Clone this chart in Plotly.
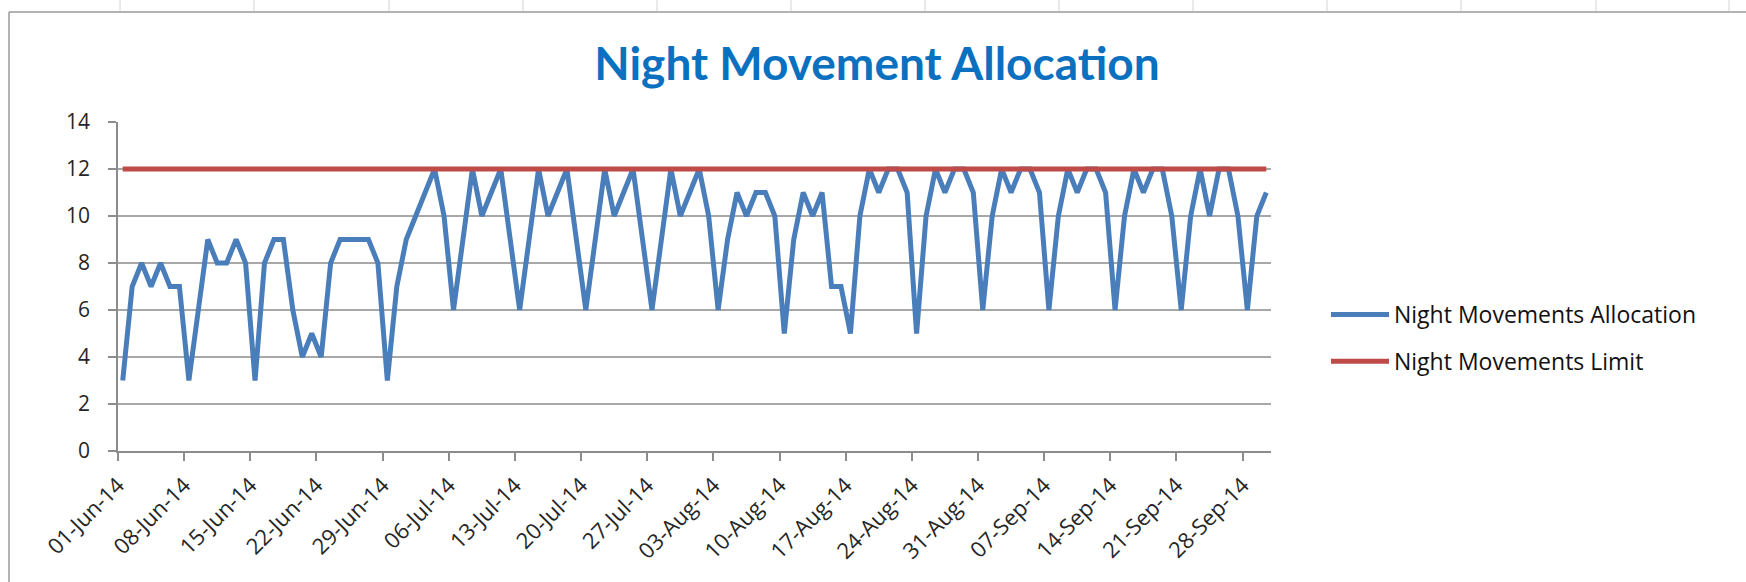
import pandas as pd
import plotly.graph_objects as go

# ---------------- data ----------------
start_date = "2014-06-01"
n_days = 122
dates = pd.date_range(start_date, periods=n_days, freq="D")

allocation = [
    3, 7, 8, 7, 8, 7, 7,
    3, 6, 9, 8, 8, 9, 8,
    3, 8, 9, 9, 6, 4, 5,
    4, 8, 9, 9, 9, 9, 8,
    3, 7, 9, 10, 11, 12, 10,
    6, 9, 12, 10, 11, 12, 9,
    6, 9, 12, 10, 11, 12, 9,
    6, 9, 12, 10, 11, 12, 9,
    6, 9, 12, 10, 11, 12, 10,
    6, 9, 11, 10, 11, 11, 10,
    5, 9, 11, 10, 11, 7, 7,
    5, 10, 12, 11, 12, 12, 11,
    5, 10, 12, 11, 12, 12, 11,
    6, 10, 12, 11, 12, 12, 11,
    6, 10, 12, 11, 12, 12, 11,
    6, 10, 12, 11, 12, 12, 10,
    6, 10, 12, 10, 12, 12, 10,
    6, 10, 11,
]
limit = [12] * n_days

series_names = ["Night Movements Allocation", "Night Movements Limit"]
title_text = "Night Movement Allocation"
y_ticks = [0, 2, 4, 6, 8, 10, 12, 14]

# ---------------- layout geometry ----------------
W_PX, H_PX = 1746, 582
L, R, T, B = 118, 475, 122, 131
PW = W_PX - L - R
PH = H_PX - T - B


def px_x(p):
    return (p - L) / PW


def px_y(p):
    return (H_PX - B - p) / PH


DAY_MS = 86400000

fig = go.Figure()
fig.add_trace(go.Scatter(
    x=dates, y=allocation, name=series_names[0], mode="lines",
    line=dict(color="#4A7EBB", width=5),
    xperiod=DAY_MS, xperiodalignment="middle",
    legendgroup="a",
))
fig.add_trace(go.Scatter(
    x=dates, y=limit, name=series_names[1], mode="lines",
    line=dict(color="#BE4B48", width=5),
    xperiod=DAY_MS, xperiodalignment="middle",
    legendgroup="b",
))

title_family = "Lato, 'Open Sans', Arial, sans-serif"
font_family = "'Open Sans', Lato, Arial, sans-serif"
grid_col = "#A8A8A8"
axis_col = "#8C8C8C"
text_col = "#262626"

fig.update_layout(
    width=W_PX, height=H_PX,
    margin=dict(l=L, r=R, t=T, b=B, autoexpand=False),
    paper_bgcolor="white", plot_bgcolor="white",
    font=dict(family=font_family, size=19, color=text_col),
    title=dict(
        text="<b>" + title_text + "</b>",
        font=dict(family=title_family, size=46, color="#0A70C0"),
        x=px_x(877), xref="paper", xanchor="center",
        y=1 - 64 / H_PX, yref="container", yanchor="middle",
    ),
    showlegend=True,
    legend=dict(
        x=px_x(1326), xanchor="left",
        y=px_y(338), yanchor="middle",
        font=dict(family=font_family, size=23, color="#111111"),
        tracegroupgap=14, itemwidth=58,
        bgcolor="rgba(0,0,0,0)",
    ),
    xaxis=dict(
        type="date",
        range=[dates[0], dates[-1] + pd.Timedelta(days=1)],
        tick0=dates[0], dtick=7 * DAY_MS,
        tickformat="%d-%b-%y", tickangle=-45,
        ticks="outside", ticklen=8, tickcolor=axis_col, tickwidth=1.5,
        showline=True, linecolor=axis_col, linewidth=1.5,
        showgrid=False, zeroline=False,
        ticklabelstandoff=3,
        tickfont=dict(size=22, color=text_col),
    ),
    yaxis=dict(
        range=[0, 14], tickvals=y_ticks,
        ticks="outside", ticklen=8, tickcolor=axis_col, tickwidth=1.5,
        showline=True, linecolor=axis_col, linewidth=1.5,
        showgrid=True, gridcolor=grid_col, gridwidth=1.5,
        zeroline=False, ticklabelstandoff=14,
        tickfont=dict(size=21, color=text_col),
    ),
)

# chart border and spreadsheet cell lines behind the chart
shapes = [
    dict(type="line", xref="paper", yref="paper",
         x0=px_x(9), x1=px_x(W_PX + 5), y0=px_y(12), y1=px_y(12),
         line=dict(color="#9A9A9A", width=1.5), layer="below"),
    dict(type="line", xref="paper", yref="paper",
         x0=px_x(9), x1=px_x(9), y0=px_y(12), y1=px_y(H_PX + 5),
         line=dict(color="#9A9A9A", width=1.5), layer="below"),
]
for cx in [120, 254, 389, 523, 657, 791, 925, 1059, 1193, 1327, 1461, 1596, 1729]:
    shapes.append(dict(type="line", xref="paper", yref="paper",
                       x0=px_x(cx), x1=px_x(cx), y0=px_y(0), y1=px_y(11),
                       line=dict(color="#D4D4D4", width=1), layer="below"))
fig.update_layout(shapes=shapes)

fig.write_html(
    "out.html",
    config={"displayModeBar": False},
    post_script="document.body.style.margin='0';document.body.style.padding='0';",
)
